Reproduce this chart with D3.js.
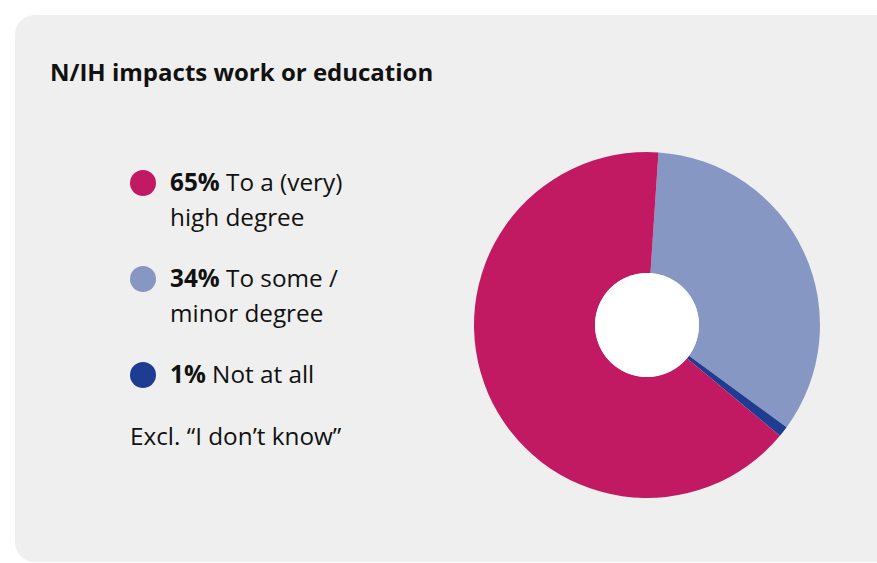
<!DOCTYPE html>
<meta charset="utf-8">
<style>
body { margin: 0; background: #fff; }
text { font-family: "Open Sans", sans-serif; fill: #111; }
</style>
<body>
<script src="https://cdn.jsdelivr.net/npm/d3@7"></script>
<script>

// chart data
var title = "N/IH impacts work or education";
var categories = ["To some / minor degree", "Not at all", "To a (very) high degree"];
var values = [34, 1, 65];
var colors = ["#8697c4", "#1f3c93", "#c21a62"];
// legend order (top to bottom) and line breaks
var legendOrder = [2, 0, 1];
var legendLines = [["To a (very)", "high degree"], ["To some /", "minor degree"], ["Not at all"]];
var note = "Excl. \u201cI don\u2019t know\u201d";

var width = 877, height = 563;

var svg = d3.select("body").append("svg")
    .attr("width", width)
    .attr("height", height);

// card background
svg.append("rect")
    .attr("x", 15).attr("y", 15)
    .attr("width", 900).attr("height", 547)
    .attr("rx", 20)
    .attr("fill", "#efefef");

svg.append("text")
    .attr("x", 50).attr("y", 81)
    .attr("font-size", 24)
    .attr("font-weight", 700)
    .text(title);

// donut
var cx = 647, cy = 325, outerR = 173, innerR = 52;
var startA = 3.8 * Math.PI / 180;

var pie = d3.pie()
    .sort(null)
    .startAngle(startA)
    .endAngle(startA + 2 * Math.PI)
    .value(function(d) { return d; });

var arc = d3.arc()
    .innerRadius(innerR)
    .outerRadius(outerR);

var g = svg.append("g")
    .attr("transform", "translate(" + cx + "," + cy + ")");

g.selectAll("path")
    .data(pie(values))
    .enter().append("path")
    .attr("d", arc)
    .attr("fill", function(d, i) { return colors[i]; });

g.append("circle")
    .attr("r", innerR)
    .attr("fill", "#fff");

// legend
var y = d3.scalePoint()
    .domain(legendOrder)
    .range([183, 375]);

var leg = svg.selectAll(".leg")
    .data(legendOrder)
    .enter().append("g")
    .attr("class", "leg")
    .attr("transform", function(d) { return "translate(143," + y(d) + ")"; });

leg.append("circle")
    .attr("r", 13)
    .attr("fill", function(d) { return colors[d]; });

leg.each(function(d, j) {
  var t = d3.select(this).append("text")
      .attr("x", 27)
      .attr("y", 7.5)
      .attr("font-size", 24.3);
  legendLines[j].forEach(function(line, k) {
    var ts = t.append("tspan")
        .attr("x", 27)
        .attr("dy", k === 0 ? 0 : 35);
    if (k === 0) {
      ts.append("tspan").attr("font-weight", 700).text(values[d] + "%");
      ts.append("tspan").text(" " + line);
    } else {
      ts.text(line);
    }
  });
});

svg.append("text")
    .attr("x", 130).attr("y", 445)
    .attr("font-size", 24.3)
    .text(note);

</script>
</body>
